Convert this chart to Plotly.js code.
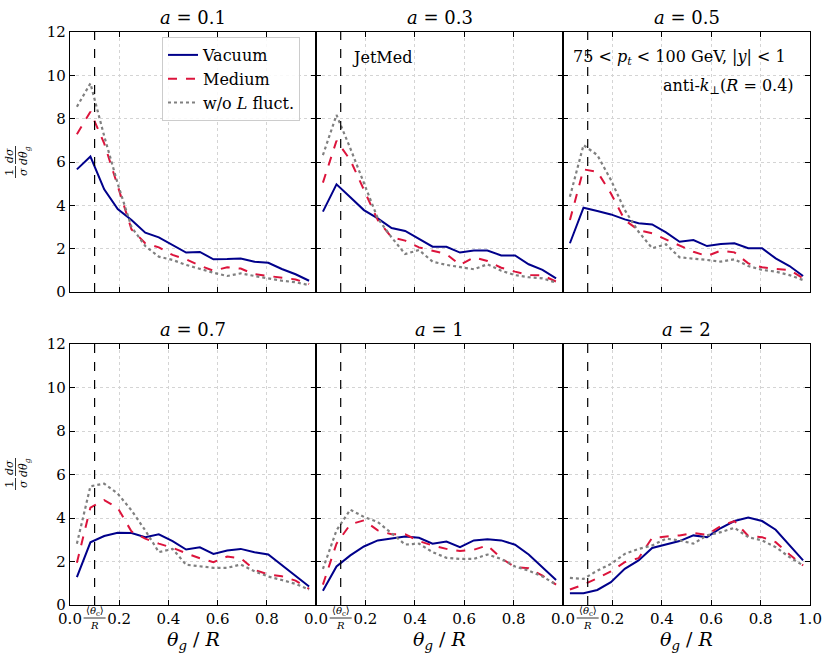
<!DOCTYPE html>
<html>
<head>
<meta charset="utf-8">
<script src="https://cdn.plot.ly/plotly-3.0.1.min.js"></script>
<style>html,body{margin:0;padding:0;background:#fff;}#plot{width:830px;height:665px;}</style>
</head>
<body>
<div id="plot"></div>
<script>
// ---- data ----
const thetaBins = [0.028,0.083,0.139,0.194,0.25,0.306,0.361,0.417,0.472,0.528,0.583,0.639,0.694,0.75,0.806,0.861,0.917,0.972];
const thetaC = 0.1;
const panelLabels = ['0.1','0.3','0.5','0.7','1','2'];
const seriesNames = ['Vacuum','Medium','w/o <i>L</i> fluct.'];

const vac_a01  = [5.66,6.25,4.74,3.83,3.32,2.74,2.52,2.17,1.82,1.85,1.51,1.52,1.55,1.40,1.35,1.06,0.82,0.52];
const med_a01  = [7.28,8.32,6.86,4.86,2.89,2.25,2.06,1.71,1.51,1.22,0.98,1.14,1.08,0.82,0.74,0.63,0.58,0.37];
const nolf_a01 = [8.55,9.63,7.20,5.00,3.00,2.12,1.63,1.48,1.25,1.06,0.89,0.74,0.86,0.74,0.63,0.52,0.45,0.32];

const vac_a03  = [3.71,4.97,4.37,3.78,3.40,2.95,2.82,2.45,2.09,2.09,1.82,1.91,1.91,1.69,1.69,1.28,1.02,0.63];
const med_a03  = [5.05,6.98,6.09,4.71,3.32,2.52,2.37,2.06,1.91,1.75,1.25,1.60,1.43,1.12,0.94,0.78,0.77,0.48];
const nolf_a03 = [6.32,8.17,6.63,5.00,3.40,2.52,1.75,1.94,1.40,1.25,1.14,1.05,1.28,0.98,0.78,0.68,0.63,0.43];

const vac_a05  = [2.25,3.89,3.74,3.58,3.35,3.17,3.12,2.75,2.32,2.40,2.12,2.22,2.25,2.02,2.02,1.55,1.20,0.74];
const med_a05  = [3.32,5.66,5.55,4.55,3.32,2.86,2.71,2.43,2.12,1.86,1.66,1.91,1.83,1.32,1.14,1.06,1.02,0.63];
const nolf_a05 = [4.40,6.78,6.32,5.17,3.78,2.78,2.02,2.20,1.60,1.55,1.48,1.40,1.51,1.20,1.02,0.94,0.78,0.55];

const vac_a07  = [1.28,2.88,3.17,3.32,3.31,3.12,3.25,2.94,2.55,2.65,2.35,2.51,2.58,2.43,2.32,1.82,1.35,0.85];
const med_a07  = [1.94,4.48,4.82,4.46,3.38,3.05,2.82,2.63,2.38,2.15,1.97,2.23,2.15,1.62,1.40,1.32,1.12,0.74];
const nolf_a07 = [2.82,5.46,5.58,5.12,4.35,3.43,2.43,2.58,1.85,1.77,1.71,1.71,1.86,1.55,1.31,1.15,0.97,0.71];

const vac_a1   = [0.66,1.77,2.28,2.69,2.97,3.05,3.15,3.09,2.82,2.92,2.66,2.97,3.02,2.97,2.77,2.32,1.71,1.15];
const med_a1   = [0.94,2.82,3.71,3.89,3.43,3.25,3.25,2.94,2.74,2.58,2.48,2.54,2.74,2.15,1.74,1.69,1.35,0.94];
const nolf_a1  = [1.66,3.43,4.38,4.05,3.82,3.28,2.78,2.82,2.43,2.17,2.12,2.12,2.32,2.12,1.77,1.58,1.31,0.94];

const vac_a2   = [0.54,0.54,0.69,1.05,1.66,2.05,2.62,2.77,2.94,3.20,3.12,3.54,3.86,4.02,3.86,3.46,2.77,2.05];
const med_a2   = [0.71,0.94,1.23,1.55,1.97,2.15,3.09,3.15,3.20,3.31,3.23,3.63,3.86,3.17,3.12,2.89,2.32,1.82];
const nolf_a2  = [1.25,1.20,1.58,1.89,2.35,2.58,2.74,3.05,2.97,2.82,3.20,3.35,3.55,3.12,2.97,2.66,2.20,1.82];

const yTicks = [0,2,4,6,8,10,12];
const xTicks = [0,0.2,0.4,0.6,0.8];
const xTickText = ['0.0','0.2','0.4','0.6','0.8'];

// ---- layout helpers ----
const W = 830, H = 665;
const px = v => v / W;
const py = v => 1 - v / H;
const colPx = [[70,316],[316,563],[563,810]];
const rowPx = [[32,292],[344,605]];
const FONT = 'DejaVu Serif';
const colors = ['#00008B','#DC143C','#808080'];
const dashes = ['solid','dash','dot'];

const panels = [
  [vac_a01, med_a01, nolf_a01],
  [vac_a03, med_a03, nolf_a03],
  [vac_a05, med_a05, nolf_a05],
  [vac_a07, med_a07, nolf_a07],
  [vac_a1,  med_a1,  nolf_a1],
  [vac_a2,  med_a2,  nolf_a2]
];

const traces = [];
const layout = {
  width: W, height: H,
  margin: {l:0, r:0, t:0, b:0},
  paper_bgcolor: '#fff', plot_bgcolor: '#fff',
  font: {family: FONT, size: 15, color: '#000'},
  showlegend: true,
  legend: {
    x: px(162), y: py(37), xanchor: 'left', yanchor: 'top',
    bgcolor: 'rgba(255,255,255,0.85)', bordercolor: '#cccccc', borderwidth: 1,
    font: {family: FONT, size: 16}, tracegroupgap: 2
  },
  annotations: [], shapes: []
};

panels.forEach((series, i) => {
  const row = Math.floor(i / 3), col = i % 3;
  const n = i + 1;
  const xa = 'x' + (n === 1 ? '' : n), ya = 'y' + (n === 1 ? '' : n);
  series.forEach((vals, k) => {
    traces.push({
      x: thetaBins, y: vals, type: 'scatter', mode: 'lines',
      xaxis: xa, yaxis: ya,
      name: seriesNames[k], showlegend: i === 0,
      line: {color: colors[k], width: k === 2 ? 2.2 : 2, dash: dashes[k]}
    });
  });
  const bottom = row === 1;
  let tv = xTicks.slice(), tt = xTickText.slice();
  if (i === 5) { tv.push(1.0); tt.push('1.0'); }
  layout['xaxis' + (n === 1 ? '' : n)] = {
    domain: [px(colPx[col][0]), px(colPx[col][1])],
    anchor: ya, range: [0, 1], fixedrange: true,
    tickmode: 'array', tickvals: tv, ticktext: tt,
    showticklabels: bottom, ticks: 'inside', ticklen: 5, tickcolor: '#000', tickwidth: 1,
    showline: true, linecolor: '#000', linewidth: 1.2, mirror: 'ticks',
    showgrid: true, gridcolor: '#d4d4d4', griddash: 'dot', gridwidth: 1,
    zeroline: false, tickfont: {family: FONT, size: 15}
  };
  layout['yaxis' + (n === 1 ? '' : n)] = {
    domain: [py(rowPx[row][1]), py(rowPx[row][0])],
    anchor: xa, range: [0, 12], fixedrange: true,
    tickmode: 'array', tickvals: yTicks,
    showticklabels: col === 0, ticks: 'inside', ticklen: 5, tickcolor: '#000', tickwidth: 1,
    showline: true, linecolor: '#000', linewidth: 1.2, mirror: 'ticks',
    showgrid: true, gridcolor: '#d4d4d4', griddash: 'dot', gridwidth: 1,
    zeroline: false, tickfont: {family: FONT, size: 15}
  };
  // theta_c dashed line
  layout.shapes.push({
    type: 'line', xref: xa, yref: ya + ' domain', x0: thetaC, x1: thetaC, y0: 0, y1: 1,
    line: {color: '#000', width: 1.2, dash: 'dash'}
  });
  // panel title
  const cx = (colPx[col][0] + colPx[col][1]) / 2;
  layout.annotations.push({
    xref: 'paper', yref: 'paper', x: px(cx), y: py(row === 0 ? 17 : 329),
    xanchor: 'center', yanchor: 'middle', showarrow: false,
    text: '<i>a</i> = ' + panelLabels[i], font: {family: FONT, size: 18}
  });
  if (bottom) {
    // <theta_c>/R tick label
    const tx = colPx[col][0] + thetaC * (colPx[col][1] - colPx[col][0]);
    layout.annotations.push({
      xref: 'paper', yref: 'paper', x: px(tx), y: py(611), xanchor: 'center', yanchor: 'middle',
      showarrow: false, text: '⟨<i>θ</i><sub>c</sub>⟩', font: {family: FONT, size: 10}
    });
    layout.annotations.push({
      xref: 'paper', yref: 'paper', x: px(tx), y: py(625), xanchor: 'center', yanchor: 'middle',
      showarrow: false, text: '<i>R</i>', font: {family: FONT, size: 10}
    });
    layout.shapes.push({
      type: 'line', xref: 'paper', yref: 'paper', x0: px(tx - 11), x1: px(tx + 11), y0: py(618), y1: py(618),
      line: {color: '#000', width: 0.8}
    });
    // x axis title
    layout.annotations.push({
      xref: 'paper', yref: 'paper', x: px(cx), y: py(640), xanchor: 'center', yanchor: 'middle',
      showarrow: false, text: '<i>θ</i><sub><i>g</i></sub> / <i>R</i>', font: {family: FONT, size: 19}
    });
  }
  if (col === 0) {
    // rotated y label 1/σ dσ/dθg
    const yc = row === 0 ? 163 : 475;
    layout.annotations.push({
      xref: 'paper', yref: 'paper', x: px(16), y: py(yc + 9), xanchor: 'center', yanchor: 'middle',
      showarrow: false, textangle: -90, text: '1<br><i>σ</i>', font: {family: FONT, size: 11}
    });
    layout.annotations.push({
      xref: 'paper', yref: 'paper', x: px(17), y: py(yc - 7), xanchor: 'center', yanchor: 'middle',
      showarrow: false, textangle: -90, text: '<i>dσ</i><br><i>dθ</i><sub><i>g</i></sub>', font: {family: FONT, size: 11}
    });
    layout.shapes.push({
      type: 'line', xref: 'paper', yref: 'paper', x0: px(15.5), x1: px(15.5), y0: py(yc + 3), y1: py(yc + 15),
      line: {color: '#000', width: 0.8}
    });
    layout.shapes.push({
      type: 'line', xref: 'paper', yref: 'paper', x0: px(15.5), x1: px(15.5), y0: py(yc - 17), y1: py(yc + 1),
      line: {color: '#000', width: 0.8}
    });
  }
});

// in-panel text
layout.annotations.push({
  xref: 'paper', yref: 'paper', x: px(350), y: py(57), xanchor: 'left', yanchor: 'middle',
  showarrow: false, text: 'JetMed', font: {family: FONT, size: 16}
});
layout.annotations.push({
  xref: 'paper', yref: 'paper', x: px(571), y: py(57), xanchor: 'left', yanchor: 'middle',
  showarrow: false, text: '75 &lt; <i>p</i><sub><i>t</i></sub> &lt; 100 GeV, |<i>y</i>| &lt; 1', font: {family: FONT, size: 16}
});
layout.annotations.push({
  xref: 'paper', yref: 'paper', x: px(796), y: py(86), xanchor: 'right', yanchor: 'middle',
  showarrow: false, text: 'anti-<i>k</i><sub>⊥</sub>(<i>R</i> = 0.4)', font: {family: FONT, size: 16}
});

Plotly.newPlot('plot', traces, layout, {staticPlot: true, displayModeBar: false});
</script>
</body>
</html>
